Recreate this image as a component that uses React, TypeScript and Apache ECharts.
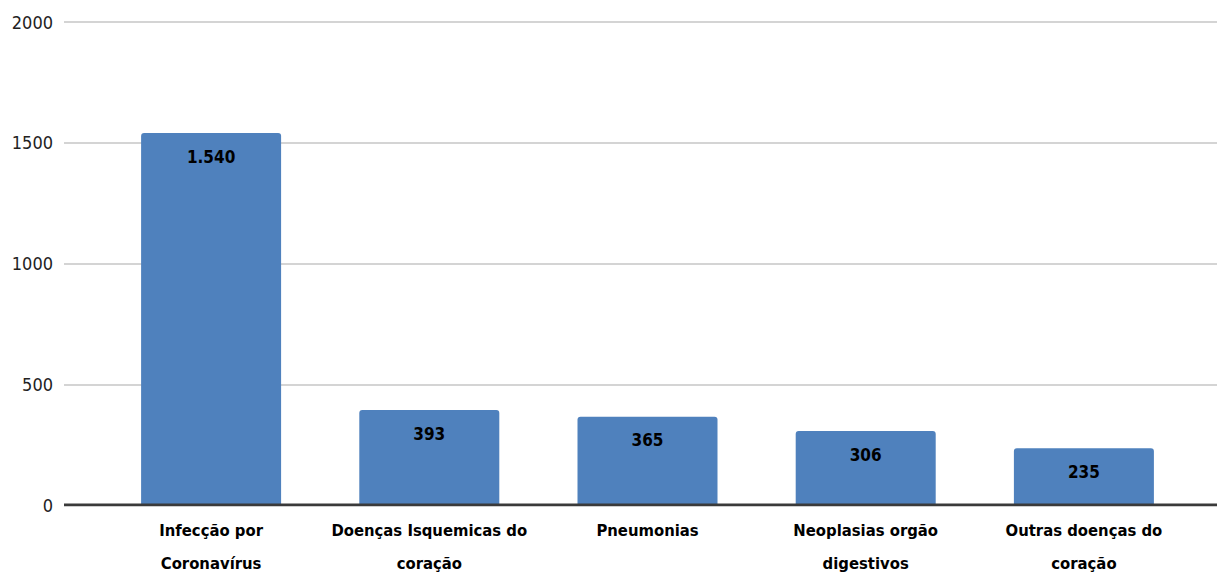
import React, { useEffect, useRef } from "react";
import * as echarts from "echarts";

const categories = [
  "Infecção por\nCoronavírus",
  "Doenças Isquemicas do\ncoração",
  "Pneumonias",
  "Neoplasias orgão\ndigestivos",
  "Outras doenças do\ncoração",
];
const values = [1540, 393, 365, 306, 235];
const yTicks = { min: 0, max: 2000, interval: 500 };

const FONT = '"Liberation Sans Narrow", "DejaVu Sans Condensed", "DejaVu Sans", sans-serif';

export default function App() {
  const ref = useRef<HTMLDivElement>(null);
  useEffect(() => {
    const chart = echarts.init(ref.current!, null, { renderer: "svg" });
    chart.setOption({
      animation: false,
      grid: [
        { left: 64, right: 0, top: 22, bottom: 70, containLabel: false, outerBoundsMode: "none" },
        { left: 102, right: 24, top: 22, bottom: 70, containLabel: false, outerBoundsMode: "none" },
      ],
      xAxis: [
        {
          gridIndex: 0,
          type: "value",
          min: 0,
          max: 1,
          axisLine: { show: false },
          axisTick: { show: false },
          axisLabel: { show: false },
          splitLine: { show: false },
        },
        {
          gridIndex: 1,
          type: "category",
          data: categories,
          axisLine: { show: false },
          axisTick: { show: false },
          axisLabel: {
            color: "#000",
            fontFamily: FONT,
            fontWeight: "bold",
            fontSize: 16.5,
            lineHeight: 33,
            margin: 9,
            interval: 0,
          },
        },
      ],
      yAxis: [
        {
          gridIndex: 0,
          type: "value",
          min: yTicks.min,
          max: yTicks.max,
          interval: yTicks.interval,
          axisLine: { show: false },
          axisTick: { show: false },
          axisLabel: {
            color: "#222",
            fontFamily: FONT,
            fontSize: 18,
            margin: 11,
            formatter: (v: number) => String(v),
          },
          splitLine: { lineStyle: { color: "#d4d4d4", width: 2 } },
        },
        {
          gridIndex: 1,
          type: "value",
          min: yTicks.min,
          max: yTicks.max,
          interval: yTicks.interval,
          axisLine: { show: false },
          axisTick: { show: false },
          axisLabel: { show: false },
          splitLine: { show: false },
        },
      ],
      series: [
        {
          type: "line",
          xAxisIndex: 0,
          yAxisIndex: 0,
          data: [
            [0, 0],
            [1, 0],
          ],
          symbol: "none",
          lineStyle: { color: "#3a3a3a", width: 3 },
          silent: true,
          z: 5,
        },
        {
          type: "bar",
          xAxisIndex: 1,
          yAxisIndex: 1,
          data: values,
          barWidth: 140,
          itemStyle: {
            color: "#4F81BD",
            borderRadius: [3, 3, 0, 0],
          },
          label: {
            show: true,
            position: "insideTop",
            distance: 15,
            color: "#000",
            fontFamily: FONT,
            fontWeight: "bold",
            fontSize: 17,
            formatter: (p: any) =>
              String(p.value).replace(/\B(?=(\d{3})+(?!\d))/g, "."),
          },
          z: 2,
        },
      ],
    });
    return () => chart.dispose();
  }, []);
  return (
    <div
      ref={ref}
      style={{ position: "fixed", left: 0, top: 0, width: 1217, height: 575, background: "#fff" }}
    />
  );
}
